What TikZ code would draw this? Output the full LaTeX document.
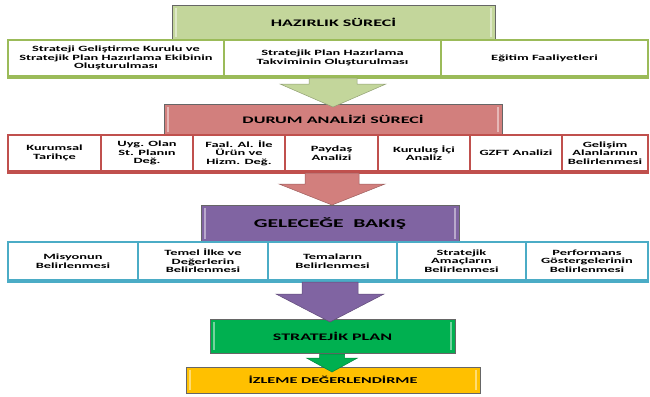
\documentclass[tikz,border=0pt]{standalone}
\usepackage{fontspec}
\setmainfont{Carlito}[FakeStretch=1.8]
\usetikzlibrary{calc}
\definecolor{hdrA}{HTML}{C3D69B}
\definecolor{lineA}{HTML}{9BBB59}
\definecolor{hdrB}{HTML}{D27F7D}
\definecolor{lineB}{HTML}{C0504D}
\definecolor{hdrC}{HTML}{8064A2}
\definecolor{lineC}{HTML}{4BACC6}
\definecolor{hdrD}{HTML}{00B050}
\definecolor{hdrE}{HTML}{FFC000}
\newcommand{\blockarr}[7]{%
  \filldraw[#1] (#2-#6,#3) -- (#2+#6,#3) -- (#2+#6,#4) -- (#2+#7,#4) -- (#2,#5)
    -- (#2-#7,#4) -- (#2-#6,#4) -- cycle;}
\begin{document}
\begin{tikzpicture}[x=1pt,y=-1pt,
  hdr/.style={draw=black!60, line width=0.6pt, fill=#1, inner sep=0pt,
    font=\bfseries\fontsize{10}{12}\selectfont,
    path picture={
      \draw[white, opacity=0.45, line width=1.4pt]
        ([xshift=4pt,yshift=-3pt]path picture bounding box.north west) --
        ([xshift=4pt,yshift=3pt]path picture bounding box.south west)
        ([xshift=-4pt,yshift=-3pt]path picture bounding box.north east) --
        ([xshift=-4pt,yshift=3pt]path picture bounding box.south east);}},
  rowbox/.style={draw=#1, line width=1.2pt, fill=white, inner sep=0pt, align=center,
    font=\bfseries\fontsize{8}{8.5}\selectfont},
  shadowline/.style={draw=#1, line width=2.4pt},
  arr/.style={fill=#1, draw=#1!75!black, line width=0.5pt}
]
\useasboundingbox (0,0) rectangle (650,396);

% ---------- HAZIRLIK
\node[hdr=hdrA, minimum width=323pt, minimum height=35pt] (h1) at (333.5,22.5) {HAZIRLIK SÜRECİ};
\node[rowbox=lineA, minimum width=216pt, minimum height=36pt] (r11) at (116,58)
  {Strateji Geliştirme Kurulu ve\\Stratejik Plan Hazırlama Ekibinin\\Oluşturulması};
\node[rowbox=lineA, minimum width=217pt, minimum height=36pt] (r12) at (332.5,58)
  {Stratejik Plan Hazırlama\\Takviminin Oluşturulması};
\node[rowbox=lineA, minimum width=207pt, minimum height=36pt] (r13) at (544.5,58)
  {Eğitim Faaliyetleri};
\draw[shadowline=lineA] ([yshift=-1pt]r11.south west) -- ([yshift=-1pt]r13.south east);

% ---------- DURUM ANALIZI
\node[hdr=hdrB, minimum width=338pt, minimum height=31pt] (h2) at (333,119.5) {DURUM ANALİZİ SÜRECİ};
\node[rowbox=lineB, minimum width=93pt, minimum height=36pt] (r21) at (54.5,153) {Kurumsal\\Tarihçe};
\node[rowbox=lineB, minimum width=92pt, minimum height=36pt] (r22) at (147,153) {Uyg. Olan\\St. Planın\\Değ.};
\node[rowbox=lineB, minimum width=92pt, minimum height=36pt] (r23) at (239,153) {Faal. Al. İle\\Ürün ve\\Hizm. Değ.};
\node[rowbox=lineB, minimum width=93pt, minimum height=36pt] (r24) at (331.5,153) {Paydaş\\Analizi};
\node[rowbox=lineB, minimum width=92pt, minimum height=36pt] (r25) at (424,153) {Kuruluş İçi\\Analiz};
\node[rowbox=lineB, minimum width=92pt, minimum height=36pt] (r26) at (516,153) {GZFT Analizi};
\node[rowbox=lineB, minimum width=86pt, minimum height=36pt] (r27) at (605,153) {Gelişim\\Alanlarının\\Belirlenmesi};
\draw[shadowline=lineB] ([yshift=-1pt]r21.south west) -- ([yshift=-1pt]r27.south east);

% ---------- GELECEGE BAKIS
\node[hdr=hdrC, minimum width=258pt, minimum height=37pt, font=\bfseries\fontsize{12}{14}\selectfont] (h3) at (330,223.5) {GELECEĞE\ \ BAKIŞ};
\node[rowbox=lineC, minimum width=130pt, minimum height=38pt] (r31) at (73,261) {Misyonun\\Belirlenmesi};
\node[rowbox=lineC, minimum width=130pt, minimum height=38pt] (r32) at (203,261) {Temel İlke ve\\Değerlerin\\Belirlenmesi};
\node[rowbox=lineC, minimum width=129pt, minimum height=38pt] (r33) at (332.5,261) {Temaların\\Belirlenmesi};
\node[rowbox=lineC, minimum width=129pt, minimum height=38pt] (r34) at (461.5,261) {Stratejik\\Amaçların\\Belirlenmesi};
\node[rowbox=lineC, minimum width=122pt, minimum height=38pt] (r35) at (587,261) {Performans\\Göstergelerinin\\Belirlenmesi};
\draw[shadowline=lineC] ([yshift=-1pt]r31.south west) -- ([yshift=-1pt]r35.south east);

% ---------- STRATEJIK PLAN / IZLEME
\node[hdr=hdrD, minimum width=245pt, minimum height=34pt] (h4) at (332.5,336) {STRATEJİK PLAN};
\node[hdr=hdrE, minimum width=294pt, minimum height=26pt, font=\bfseries\fontsize{9}{11}\selectfont] (h5) at (333,380) {İZLEME DEĞERLENDİRME};

% ---------- block arrows
\blockarr{arr=hdrA}{333}{78}{84}{107}{24}{53}
\blockarr{arr=hdrB}{332}{173}{184}{205}{27}{53}
\blockarr{arr=hdrC}{330}{282}{294}{322}{28}{54}
\blockarr{arr=hdrD}{332}{354}{358}{372}{12.5}{25.5}
\end{tikzpicture}
\end{document}
